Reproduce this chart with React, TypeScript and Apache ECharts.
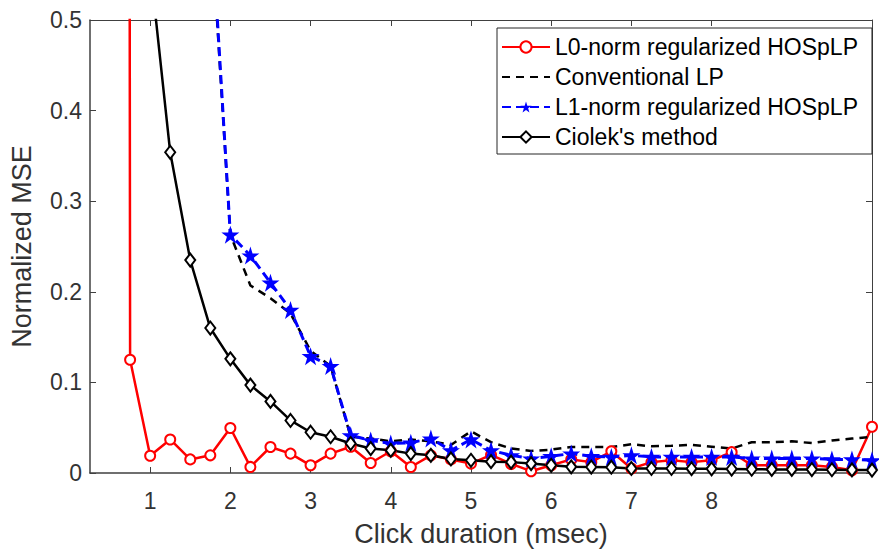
import React, { useEffect, useRef } from "react";
import * as echarts from "echarts";

const xValues = [0.5, 0.75, 1, 1.25, 1.5, 1.75, 2, 2.25, 2.5, 2.75, 3, 3.25, 3.5, 3.75, 4, 4.25, 4.5, 4.75, 5, 5.25, 5.5, 5.75, 6, 6.25, 6.5, 6.75, 7, 7.25, 7.5, 7.75, 8, 8.25, 8.5, 8.75, 9, 9.25, 9.5, 9.75, 10];

const l0Norm = [20, 0.125, 0.019, 0.037, 0.015, 0.0195, 0.0497, 0.0067, 0.0287, 0.0214, 0.0085, 0.0214, 0.029, 0.011, 0.024, 0.0066, 0.0195, 0.015, 0.0104, 0.02, 0.01, 0.002, 0.0085, 0.015, 0.012, 0.024, 0.005, 0.012, 0.014, 0.012, 0.014, 0.023, 0.0085, 0.0085, 0.0085, 0.0085, 0.0066, 0.003, 0.051];

const conventionalLP = [6, 4, 2.5, 1.5, 1.0, 0.62, 0.263, 0.207, 0.193, 0.176, 0.135, 0.118, 0.04, 0.038, 0.035, 0.037, 0.035, 0.031, 0.046, 0.034, 0.027, 0.0243, 0.0258, 0.0287, 0.0287, 0.0287, 0.0317, 0.0295, 0.03, 0.031, 0.029, 0.027, 0.034, 0.034, 0.035, 0.033, 0.036, 0.038, 0.04];

const l1Norm = [6, 4, 2.5, 1.5, 1.0, 0.63, 0.263, 0.24, 0.21, 0.18, 0.129, 0.118, 0.0416, 0.036, 0.0325, 0.0335, 0.038, 0.025, 0.037, 0.025, 0.0195, 0.016, 0.0185, 0.0214, 0.0185, 0.0177, 0.0195, 0.0177, 0.0177, 0.0177, 0.0177, 0.0177, 0.016, 0.016, 0.016, 0.016, 0.015, 0.015, 0.014];

const ciolek = [5, 1.2, 0.56, 0.354, 0.235, 0.16, 0.126, 0.097, 0.079, 0.058, 0.045, 0.04, 0.0325, 0.027, 0.025, 0.0214, 0.0195, 0.0155, 0.014, 0.0125, 0.012, 0.0104, 0.0085, 0.0068, 0.0066, 0.0064, 0.005, 0.005, 0.005, 0.0048, 0.0046, 0.0044, 0.0042, 0.004, 0.004, 0.0038, 0.0036, 0.0034, 0.0032];

const xTickValues = [1, 2, 3, 4, 5, 6, 7, 8];
const seriesNames = ["L0-norm regularized HOSpLP", "Conventional LP", "L1-norm regularized HOSpLP", "Ciolek's method"];

const STAR = "path://M50 0L61.23 34.55L97.55 34.55L68.17 55.9L79.39 90.45L50 69.1L20.61 90.45L31.83 55.9L2.45 34.55L38.77 34.55Z";

const pairs = (ys: number[]) => xValues.map((x, i) => [x, ys[i]]);

export default function App() {
  const ref = useRef<HTMLDivElement>(null);
  useEffect(() => {
    if (!ref.current) return;
    const chart = echarts.init(ref.current, null, { renderer: "svg" });
    const font = "'Liberation Sans', Arial, Helvetica, sans-serif";
    const axisColor = "#404040";
    const tickLabel = { fontFamily: font, fontSize: 23, color: "#333" };
    chart.setOption({
      animation: false,
      backgroundColor: "#fff",
      grid: { left: 90, top: 20, right: 7, bottom: 77, containLabel: false, outerBoundsMode: "none" },
      legend: {
        orient: "vertical",
        left: 497,
        top: 28,
        padding: [7, 14, 5, 4],
        itemWidth: 48,
        itemHeight: 14,
        itemGap: 6,
        backgroundColor: "#fff",
        borderColor: "#262626",
        borderWidth: 1,
        textStyle: { fontFamily: font, fontSize: 23, color: "#000", lineHeight: 24 },
        data: seriesNames,
      },
      xAxis: [
        {
          type: "value",
          min: 0.25,
          max: 10,
          position: "bottom",
          name: "Click duration (msec)",
          nameLocation: "middle",
          nameGap: 47,
          nameTextStyle: { fontFamily: font, fontSize: 27, color: "#333" },
          axisLine: { show: true, onZero: false, lineStyle: { color: axisColor, width: 1.5 } },
          axisTick: { show: true, inside: true, length: 6, customValues: xTickValues, lineStyle: { color: axisColor } },
          axisLabel: { show: true, customValues: xTickValues, margin: 16, ...tickLabel },
          splitLine: { show: false },
        },
        {
          type: "value",
          min: 0.25,
          max: 10,
          position: "top",
          axisLine: { show: true, onZero: false, lineStyle: { color: axisColor, width: 1 } },
          axisTick: { show: true, inside: true, length: 6, customValues: xTickValues, lineStyle: { color: axisColor } },
          axisLabel: { show: false },
          splitLine: { show: false },
        },
      ],
      yAxis: [
        {
          type: "value",
          min: 0,
          max: 0.5,
          interval: 0.1,
          position: "left",
          name: "Normalized MSE",
          nameLocation: "middle",
          nameGap: 55,
          nameTextStyle: { fontFamily: font, fontSize: 27, color: "#333" },
          axisLine: { show: true, onZero: false, lineStyle: { color: axisColor, width: 1.5 } },
          axisTick: { show: true, inside: true, length: 6, lineStyle: { color: axisColor } },
          axisLabel: { margin: 8, ...tickLabel, formatter: (v: number) => (v === 0 ? "0" : v.toFixed(1)) },
          splitLine: { show: false },
        },
        {
          type: "value",
          min: 0,
          max: 0.5,
          interval: 0.1,
          position: "right",
          axisLine: { show: true, onZero: false, lineStyle: { color: axisColor, width: 1 } },
          axisTick: { show: true, inside: true, length: 6, lineStyle: { color: axisColor } },
          axisLabel: { show: false },
          splitLine: { show: false },
        },
      ],
      series: [
        {
          name: seriesNames[0],
          type: "line",
          data: pairs(l0Norm),
          clip: true,
          symbol: "emptyCircle",
          symbolSize: 10,
          lineStyle: { color: "#ff0000", width: 2.5 },
          itemStyle: { color: "#ff0000", borderColor: "#ff0000", borderWidth: 2.5 },
        },
        {
          name: seriesNames[1],
          type: "line",
          data: pairs(conventionalLP),
          clip: true,
          symbol: "circle",
          showSymbol: false,
          lineStyle: { color: "#000", width: 2.5, type: [8, 6] },
          itemStyle: { color: "rgba(0,0,0,0)", borderWidth: 0 },
        },
        {
          name: seriesNames[2],
          type: "line",
          data: pairs(l1Norm),
          clip: true,
          symbol: STAR,
          symbolSize: 18,
          lineStyle: { color: "#0000ff", width: 3, type: [9, 5] },
          itemStyle: { color: "#0000ff", borderWidth: 0 },
        },
        {
          name: seriesNames[3],
          type: "line",
          data: pairs(ciolek),
          clip: true,
          symbol: "emptyDiamond",
          symbolSize: [10, 13],
          lineStyle: { color: "#000", width: 2.5 },
          itemStyle: { color: "#000", borderColor: "#000", borderWidth: 2.5 },
        },
      ],
    });
    return () => chart.dispose();
  }, []);
  return (
    <div
      ref={ref}
      style={{ position: "fixed", left: 0, top: 0, width: 879, height: 550, background: "#fff" }}
    />
  );
}
